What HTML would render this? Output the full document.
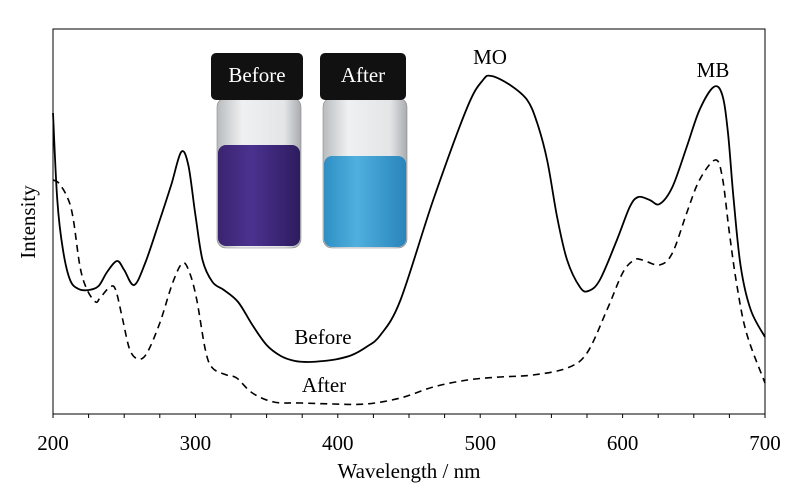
<!DOCTYPE html>
<html><head><meta charset="utf-8"><style>
body{margin:0;background:#fff}
svg{display:block;font-family:"Liberation Serif",serif}
</style></head><body>
<svg id="chart" width="800" height="493" viewBox="0 0 800 493">
<defs>
<linearGradient id="glass" x1="0" x2="1"><stop offset="0" stop-color="#b9bcbf"/><stop offset="0.3" stop-color="#eef0f1"/><stop offset="0.8" stop-color="#e3e5e7"/><stop offset="1" stop-color="#a9acaf"/></linearGradient>
<linearGradient id="purple" x1="0" x2="1"><stop offset="0" stop-color="#3a2470"/><stop offset="0.4" stop-color="#4b3290"/><stop offset="1" stop-color="#2e1c5e"/></linearGradient>
<linearGradient id="blue" x1="0" x2="1"><stop offset="0" stop-color="#2f8fc4"/><stop offset="0.4" stop-color="#4fb0de"/><stop offset="1" stop-color="#2a84bb"/></linearGradient>
</defs>
<g>
<rect x="217" y="98" width="84" height="150" rx="9" fill="url(#glass)" stroke="#888" stroke-width="0.6"/>
<rect x="218" y="145" width="82" height="101" rx="8" fill="url(#purple)"/>
<rect x="211" y="53" width="92" height="47" rx="5" fill="#111"/>
<text x="257" y="82" font-size="21" fill="#fff" text-anchor="middle">Before</text>
</g>
<g>
<rect x="323" y="98" width="84" height="150" rx="9" fill="url(#glass)" stroke="#888" stroke-width="0.6"/>
<rect x="324" y="156" width="82" height="91" rx="8" fill="url(#blue)"/>
<rect x="320" y="53" width="86" height="47" rx="5" fill="#111"/>
<text x="363" y="82" font-size="21" fill="#fff" text-anchor="middle">After</text>
</g>
<rect x="53" y="29" width="712" height="385" fill="none" stroke="#000" stroke-width="1"/>
<g id="axis"></g>
<g id="series"></g>
<text x="490" y="64" font-size="21" text-anchor="middle">MO</text>
<text x="713" y="77" font-size="21" text-anchor="middle">MB</text>
<text x="323" y="344" font-size="21" text-anchor="middle">Before</text>
<text x="324" y="392" font-size="21" text-anchor="middle">After</text>
<text x="409" y="478" font-size="21" text-anchor="middle">Wavelength / nm</text>
<text transform="translate(35,222) rotate(-90)" font-size="21" text-anchor="middle">Intensity</text>
</svg>
<script>
const xTicks=[200,300,400,500,600,700];
const beforeWl=[200,203,207,212,218,225,232,238,245,250,257,265,275,283,290,295,300,305,312,320,330,340,350,360,370,380,390,400,410,420,430,444,467,491,502,508,521,533,540,547,554,561,570,576,584,596,605,611,619,626,635,645,654,664,670,674,678,683,690,700];
const beforeVal=[301,214,164,134,125,124,128,142,153,144,129,152,194,229,262,249,199,154,132,124,112,89,69,58,53,52,53,55,59,67,79,114,214,307,334,338,329,314,291,254,197,154,127,123,134,174,207,217,214,210,227,267,304,327,319,281,214,147,104,77];
const afterWl=[200,204,210,214,219,224,230,233,240,244,249,254,260,266,275,284,291,296,301,307,312,322,329,340,355,374,397,420,444,467,491,514,537,561,575,589,600,608,614,626,635,645,654,665,670,675,680,687,700];
const afterVal=[234,231,217,197,147,124,112,116,127,124,94,64,55,61,91,131,151,141,114,64,46,39,36,21,12,11,10,10,16,27,34,37,39,46,61,104,141,154,154,149,161,201,234,254,237,181,131,81,31];
const NS="http://www.w3.org/2000/svg";
const X=w=>53+(w-200)*712/500;
const Y=v=>414-v*385/385;
function path(xs,ys){
  const p=xs.map((w,i)=>[X(w),Y(ys[i])]);
  let d="M"+p[0][0].toFixed(1)+","+p[0][1].toFixed(1);
  for(let i=0;i<p.length-1;i++){
    const p0=p[Math.max(0,i-1)],p1=p[i],p2=p[i+1],p3=p[Math.min(p.length-1,i+2)];
    const c1=[p1[0]+(p2[0]-p0[0])/6,p1[1]+(p2[1]-p0[1])/6];
    const c2=[p2[0]-(p3[0]-p1[0])/6,p2[1]-(p3[1]-p1[1])/6];
    d+=`C${c1[0].toFixed(1)},${c1[1].toFixed(1)} ${c2[0].toFixed(1)},${c2[1].toFixed(1)} ${p2[0].toFixed(1)},${p2[1].toFixed(1)}`;
  }
  return d;
}
const axis=document.getElementById('axis');
for(let w=200;w<=700;w+=25){
  const t=document.createElementNS(NS,'line');
  t.setAttribute('x1',X(w));t.setAttribute('x2',X(w));t.setAttribute('y1',414);t.setAttribute('y2',418);
  t.setAttribute('stroke','#000');
  
  
  axis.appendChild(t);
}
xTicks.forEach(w=>{
  const t=document.createElementNS(NS,'text');
  t.setAttribute('x',X(w));t.setAttribute('y',450);t.setAttribute('font-size','21');t.setAttribute('text-anchor','middle');
  t.textContent=w;
  
  
  axis.appendChild(t);
});
const s=document.getElementById('series');
const a=document.createElementNS(NS,'path');
a.setAttribute('d',path(beforeWl,beforeVal));a.setAttribute('fill','none');a.setAttribute('stroke','#000');a.setAttribute('stroke-width','1.8');


s.appendChild(a);
const b=document.createElementNS(NS,'path');
b.setAttribute('d',path(afterWl,afterVal));b.setAttribute('fill','none');b.setAttribute('stroke','#000');b.setAttribute('stroke-width','1.6');b.setAttribute('stroke-dasharray','7,5');


s.appendChild(b);
</script>
</body></html>
